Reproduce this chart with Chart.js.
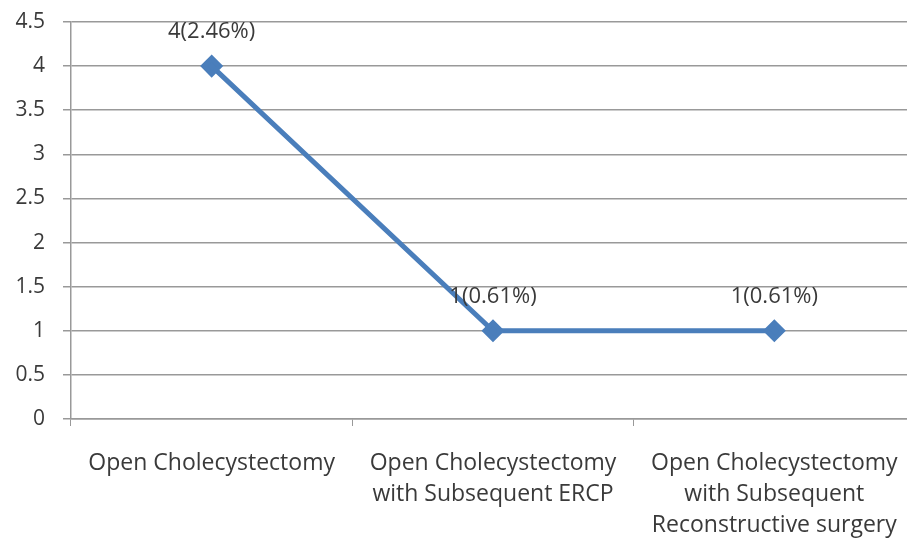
<!DOCTYPE html>
<html lang="en">
<head>
  <meta charset="UTF-8">
  <title>Open Cholecystectomy</title>
  <script src="https://cdn.jsdelivr.net/npm/chart.js"></script>
  <style>
    html, body { margin: 0; padding: 0; background: #fff; overflow: hidden; }
  </style>
</head>
<body>
  <canvas id="chart" width="928" height="542"></canvas>

  <script>
    // data
    const categories = [
      ['Open Cholecystectomy'],
      ['Open Cholecystectomy', 'with Subsequent ERCP'],
      ['Open Cholecystectomy', 'with Subsequent', 'Reconstructive surgery']
    ];
    const counts = [4, 1, 1];
    const pointLabels = ['4(2.46%)', '1(0.61%)', '1(0.61%)'];
    const yTicks = [0, 0.5, 1, 1.5, 2, 2.5, 3, 3.5, 4, 4.5];

    const textColor = '#3a3a3a';
    const fontFamily = '"Open Sans", sans-serif';

    // draws the value labels above each point
    const valueLabels = {
      id: 'valueLabels',
      afterDatasetsDraw(chart) {
        const ctx = chart.ctx;
        const meta = chart.getDatasetMeta(0);
        ctx.save();
        ctx.font = '22px ' + fontFamily;
        ctx.fillStyle = textColor;
        ctx.textAlign = 'center';
        ctx.textBaseline = 'middle';
        meta.data.forEach((pt, i) => {
          ctx.fillText(pointLabels[i], pt.x, pt.y - 34);
        });
        ctx.restore();
      }
    };

    new Chart(document.getElementById('chart'), {
      type: 'line',
      data: {
        labels: categories,
        datasets: [{
          data: counts,
          borderColor: '#4a7ebb',
          backgroundColor: '#4a7ebb',
          borderWidth: 5,
          pointStyle: 'rectRot',
          pointRadius: 8,
          pointHoverRadius: 8,
          tension: 0,
          fill: false
        }]
      },
      options: {
        responsive: false,
        animation: false,
        layout: { padding: { top: 22, right: 0, left: 0, bottom: 0 } },
        plugins: {
          legend: { display: false },
          tooltip: { enabled: false }
        },
        scales: {
          x: {
            offset: true,
            afterFit(scale) { scale.height = 123; },
            grid: {
              offset: true,
              drawOnChartArea: false,
              drawTicks: true,
              tickLength: 7,
              color: '#999999',
              lineWidth: 1
            },
            border: { color: '#999999', width: 1.5 },
            ticks: {
              color: textColor,
              font: { family: fontFamily, size: 23, lineHeight: 1.35 },
              padding: 22,
              maxRotation: 0,
              autoSkip: false
            }
          },
          y: {
            min: 0,
            max: 4.5,
            afterFit(scale) {
              scale.width = 71;
              scale.paddingTop = 0;
              scale.paddingBottom = 0;
            },
            afterBuildTicks(scale) {
              scale.ticks = yTicks.map(v => ({ value: v }));
            },
            grid: {
              color: '#999999',
              lineWidth: 1.5,
              tickLength: 8
            },
            border: { color: '#999999', width: 1.5 },
            ticks: {
              color: textColor,
              font: { family: fontFamily, size: 21 },
              padding: 18,
              callback: v => String(v)
            }
          }
        }
      },
      plugins: [valueLabels]
    });
  </script>
</body>
</html>
